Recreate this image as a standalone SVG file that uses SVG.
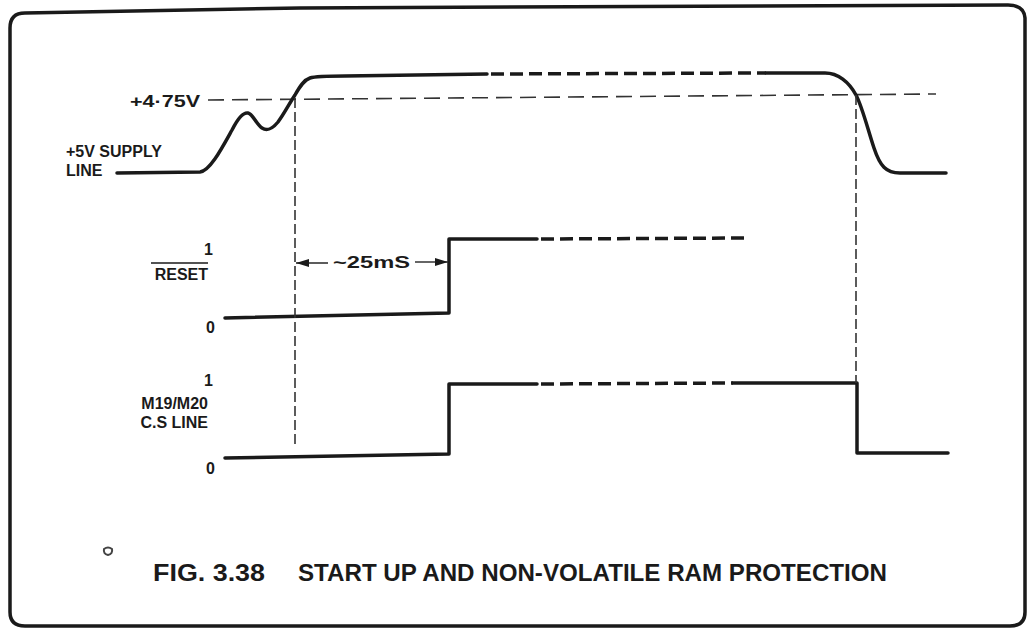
<svg xmlns="http://www.w3.org/2000/svg" width="1027" height="630" viewBox="0 0 1027 630">
<style>
.sig{fill:none;stroke:#1a1a1a;stroke-width:3.5;stroke-linejoin:round;stroke-linecap:round}
.sigd{fill:none;stroke:#1a1a1a;stroke-width:3.5;stroke-dasharray:13 6}
.thin{fill:none;stroke:#333;stroke-width:1.6;stroke-dasharray:16 8}
.vd{fill:none;stroke:#333;stroke-width:1.6;stroke-dasharray:10 4}
.arr{fill:none;stroke:#333;stroke-width:1.6}
.lbl{font-family:"Liberation Sans",Arial,sans-serif;font-weight:bold;font-size:16px;fill:#1a1a1a}
.cap{font-family:"Liberation Sans",Arial,sans-serif;font-weight:bold;font-size:24px;fill:#1a1a1a}
</style>
<defs>
<marker id="ah" viewBox="0 0 13 8" refX="13" refY="4" markerWidth="13" markerHeight="8" orient="auto" markerUnits="userSpaceOnUse"><path d="M0,0 L13,4 L0,8 z" fill="#1a1a1a"/></marker>
</defs>
<rect width="1027" height="630" fill="#fff"/>
<g id="border"><path d="M10,612 L10,28 Q10,13 25,13 L300,8 L1008,5 Q1024,5 1025,18 L1025,612 Q1025,626 1010,626 L25,626 Q10,626 10,612 Z" fill="none" stroke="#1a1a1a" stroke-width="3.5"/></g>
<g id="threshold">
<line class="thin" x1="208" y1="100" x2="936" y2="94"/>
<text class="lbl" x="130" y="107" font-size="17" textLength="70" lengthAdjust="spacingAndGlyphs">+4·75V</text>
</g>
<g id="supply">
<text class="lbl" x="66" y="157">+5V SUPPLY</text>
<text class="lbl" x="66" y="176">LINE</text>
<path class="sig" d="M117,173 L200,172 C210,171 222,148 232,130 C238,118 243,112 248,113 C253,114 256,124 262,128 C268,132 273,128 278,122 C284,114 289,104 295,95 C300,86 304,80 310,78 C316,76 330,76 345,76 L487,74"/>
<path class="sigd" d="M491,74 L766,73"/>
<path class="sig" d="M766,73 L825,73 C838,73 849,82 856,95 C862,106 868,130 874,148 C880,166 886,173 900,173 L946,173"/>
</g>
<g id="reset">
<text class="lbl" x="213" y="255" text-anchor="end" font-size="17">1</text>
<text class="lbl" x="208" y="280" text-anchor="end" font-size="17">RESET</text>
<line x1="151" y1="263" x2="208" y2="263" stroke="#1a1a1a" stroke-width="1.6"/>
<text class="lbl" x="215" y="333" text-anchor="end" font-size="17">0</text>
<path class="sig" d="M225,318 L449,313 L449,239 L537,239"/>
<path class="sigd" d="M541,239 L750,238"/>
</g>
<g id="cs">
<text class="lbl" x="213" y="386" text-anchor="end" font-size="17">1</text>
<text class="lbl" x="208" y="409" text-anchor="end">M19/M20</text>
<text class="lbl" x="208" y="428" text-anchor="end">C.S LINE</text>
<text class="lbl" x="215" y="474" text-anchor="end" font-size="17">0</text>
<path class="sig" d="M225,458 L449,454 L449,384 L537,384"/>
<path class="sigd" d="M541,384 L733,383"/>
<path class="sig" d="M733,383 L857,383 L857,453 L948,453"/>
</g>
<g id="connectors">
<line class="vd" x1="295" y1="98" x2="295" y2="448"/>
<line class="vd" x1="856" y1="95" x2="856" y2="383"/>
<line class="arr" x1="328" y1="263" x2="296" y2="263" marker-end="url(#ah)"/>
<line class="arr" x1="415" y1="262" x2="448" y2="262" marker-end="url(#ah)"/>
<text class="lbl" x="333" y="268" font-size="17" textLength="77" lengthAdjust="spacingAndGlyphs">~25mS</text>
</g>
<g id="caption">
<path d="M104,549 Q108,546 112,549 Q113,554 108,555 Q103,554 104,549 Z" fill="none" stroke="#444" stroke-width="2"/>
<text class="cap" x="153" y="581" textLength="112" lengthAdjust="spacingAndGlyphs">FIG. 3.38</text>
<text class="cap" x="298" y="581" textLength="589" lengthAdjust="spacingAndGlyphs">START UP AND NON-VOLATILE RAM PROTECTION</text>
</g>
</svg>
